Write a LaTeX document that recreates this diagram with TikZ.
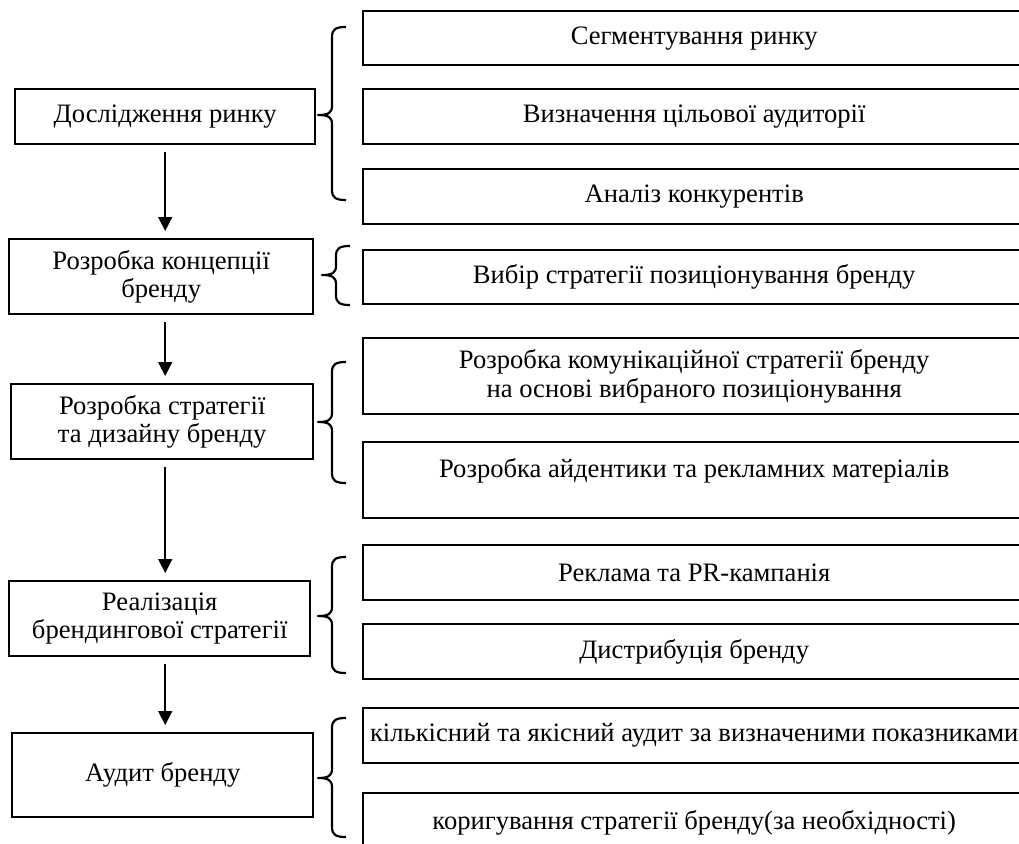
\documentclass[tikz,border=0pt]{standalone}
\usepackage{fontspec}
\setmainfont{Liberation Serif}
\usetikzlibrary{arrows.meta}

\tikzset{
  stage/.style={draw, line width=2.4pt, anchor=north west, inner sep=0pt,
    align=center, font=\fontsize{26.6pt}{28.5pt}\selectfont},
  task/.style={stage, minimum width=662pt},
  flow/.style={line width=1.6pt, -{Triangle[width=14pt,length=14pt]},
    shorten <=7pt, shorten >=7pt},
  curly/.style={line width=2.2pt, line join=round}
}
% x, top, tip, bottom
\newcommand\sidebrace[4]{%
  \draw[curly] (#1,#2) .. controls (#1-10,#2) and (#1-14,#2+2) .. (#1-14,#2+10)
    -- (#1-14,#3-9) .. controls (#1-14,#3-2) and (#1-18,#3) .. (#1-28,#3)
    .. controls (#1-18,#3) and (#1-14,#3+2) .. (#1-14,#3+9)
    -- (#1-14,#4-10) .. controls (#1-14,#4-2) and (#1-10,#4) .. (#1,#4);}

\begin{document}
\begin{tikzpicture}[x=1pt, y=-1pt]
    \clip (0,0) rectangle (1019,843);
    % stages
    \node[stage, minimum width=300pt, minimum height=55pt] (market) at (14,88) {Дослідження ринку};
    \node[stage, minimum width=304pt, minimum height=75pt] (concept) at (8,238) {Розробка концепції\\бренду};
    \node[stage, minimum width=302pt, minimum height=75pt] (design) at (10,383) {Розробка стратегії\\та дизайну бренду};
    \node[stage, minimum width=301pt, minimum height=75pt] (launch) at (8,580) {Реалізація\\брендингової стратегії};
    \node[stage, minimum width=301pt, minimum height=84pt] (audit) at (11,732) {Аудит бренду};
    % tasks
    \node[task, minimum height=54pt] (segment) at (362,10) {Сегментування ринку};
    \node[task, minimum height=55pt] (target) at (362,88) {Визначення цільової аудиторії};
    \node[task, minimum height=55pt] (rivals) at (362,168) {Аналіз конкурентів};
    \node[task, minimum height=54pt] (position) at (362,249) {Вибір стратегії позиціонування бренду};
    \node[task, minimum height=76pt] (comm) at (362,337) {Розробка комунікаційної стратегії бренду\\на основі вибраного позиціонування};
    \node[task, minimum height=76pt, text height=18pt, text depth=23pt] (ident) at (362,441) {Розробка айдентики та рекламних матеріалів};
    \node[task, minimum height=55pt] (advert) at (362,544) {Реклама та PR-кампанія};
    \node[task, minimum height=55pt] (distrib) at (362,623) {Дистрибуція бренду};
    \node[task, minimum height=55pt] (quant) at (362,707) {кількісний та якісний аудит за визначеними показниками};
    \node[task, minimum height=60pt] (correct) at (362,792) {коригування стратегії бренду(за необхідності)};
    % arrows
    \draw[flow] (market) -- (market |- concept.north);
    \draw[flow] (market |- concept.south) -- (market |- design.north);
    \draw[flow] (market |- design.south) -- (market |- launch.north);
    \draw[flow] (market |- launch.south) -- (market |- audit.north);
    % braces
    \sidebrace{346}{27}{115}{200}
    \sidebrace{350}{246}{275}{305}
    \sidebrace{346}{362}{422}{483}
    \sidebrace{346}{557}{616}{673}
    \sidebrace{346}{718}{778}{837}
\end{tikzpicture}
\end{document}
